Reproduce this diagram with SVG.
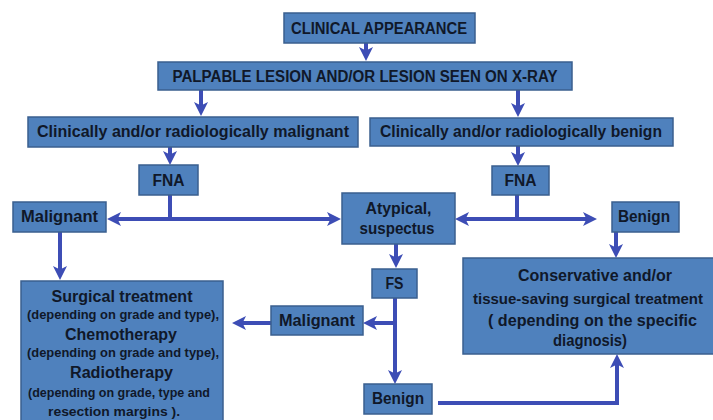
<svg xmlns="http://www.w3.org/2000/svg" width="713" height="420" viewBox="0 0 713 420">
<style>
.box{fill:#4f81bd;stroke:#3a5f8f;stroke-width:1.5}
.t{font-family:"Liberation Sans",Arial,sans-serif;font-weight:bold;fill:#101829;text-anchor:middle;font-size:16px}
.s{font-size:12px}
.c{fill:none;stroke:#3d4db5;stroke-width:4}
</style>
<defs>
<marker id="ah" viewBox="0 0 14 14" refX="9" refY="7" markerWidth="14" markerHeight="14" markerUnits="userSpaceOnUse" orient="auto-start-reverse">
<path d="M0,0 L14,7 L0,14 L3.5,7 z" fill="#3d4db5"/>
</marker>
</defs>
<rect width="713" height="420" fill="#ffffff"/>
<g id="connectors">
<path class="c" d="M366,43 V56" marker-end="url(#ah)"/>
<path class="c" d="M201,90 V111" marker-end="url(#ah)"/>
<path class="c" d="M518,90 V112" marker-end="url(#ah)"/>
<path class="c" d="M170,147 V160" marker-end="url(#ah)"/>
<path class="c" d="M518,146 V161" marker-end="url(#ah)"/>
<path class="c" d="M170,195 V219"/>
<path class="c" d="M112,219 H336" marker-start="url(#ah)" marker-end="url(#ah)"/>
<path class="c" d="M517,195 V219"/>
<path class="c" d="M460,219 H592" marker-start="url(#ah)" marker-end="url(#ah)"/>
<path class="c" d="M60,232 V275" marker-end="url(#ah)"/>
<path class="c" d="M616,232 V253" marker-end="url(#ah)"/>
<path class="c" d="M396,244 V263" marker-end="url(#ah)"/>
<path class="c" d="M395,298 V379" marker-end="url(#ah)"/>
<path class="c" d="M395,323 H368" marker-end="url(#ah)"/>
<path class="c" d="M271,323 H237" marker-end="url(#ah)"/>
<path class="c" d="M438,403 H617 V359" marker-end="url(#ah)"/>
</g>
<g id="clinical"><rect class="box" x="284" y="13" width="191" height="30"/><text class="t" x="379" y="34" textLength="176" lengthAdjust="spacingAndGlyphs">CLINICAL APPEARANCE</text></g>
<g id="palpable"><rect class="box" x="158" y="62" width="414" height="28"/><text class="t" x="365" y="82" textLength="385" lengthAdjust="spacingAndGlyphs">PALPABLE LESION AND/OR LESION SEEN  ON X-RAY</text></g>
<g id="clin-malignant"><rect class="box" x="28" y="117" width="330" height="30"/><text class="t" x="193" y="137" textLength="312" lengthAdjust="spacingAndGlyphs">Clinically and/or radiologically malignant</text></g>
<g id="clin-benign"><rect class="box" x="370" y="118" width="303" height="28"/><text class="t" x="521" y="137" textLength="282" lengthAdjust="spacingAndGlyphs">Clinically and/or radiologically benign</text></g>
<g id="fna-left"><rect class="box" x="139" y="165" width="59" height="30"/><text class="t" x="168.5" y="186" textLength="32" lengthAdjust="spacingAndGlyphs">FNA</text></g>
<g id="fna-right"><rect class="box" x="492" y="166" width="57" height="29"/><text class="t" x="520.5" y="186" textLength="32" lengthAdjust="spacingAndGlyphs">FNA</text></g>
<g id="malignant-1"><rect class="box" x="13" y="202" width="93" height="30"/><text class="t" x="59.5" y="222" textLength="77" lengthAdjust="spacingAndGlyphs">Malignant</text></g>
<g id="atypical"><rect class="box" x="342" y="193" width="113" height="51"/><text class="t" x="398.5" y="214" textLength="66" lengthAdjust="spacingAndGlyphs">Atypical,</text><text class="t" x="397" y="234" textLength="75" lengthAdjust="spacingAndGlyphs">suspectus</text></g>
<g id="benign-1"><rect class="box" x="612" y="202" width="67" height="30"/><text class="t" x="644" y="222" textLength="52" lengthAdjust="spacingAndGlyphs">Benign</text></g>
<g id="fs"><rect class="box" x="372" y="269" width="45" height="29"/><text class="t" x="394.5" y="289" textLength="18" lengthAdjust="spacingAndGlyphs">FS</text></g>
<g id="malignant-2"><rect class="box" x="271" y="306" width="92" height="29"/><text class="t" x="317" y="326" textLength="76" lengthAdjust="spacingAndGlyphs">Malignant</text></g>
<g id="benign-2"><rect class="box" x="364" y="384" width="68" height="30"/><text class="t" x="398" y="404" textLength="52" lengthAdjust="spacingAndGlyphs">Benign</text></g>
<g id="treatment">
<rect class="box" x="21" y="281" width="202" height="150"/>
<text class="t" x="122" y="302" textLength="141" lengthAdjust="spacingAndGlyphs">Surgical treatment</text>
<text class="t s" x="123" y="319" textLength="192" lengthAdjust="spacingAndGlyphs">(depending on grade and type),</text>
<text class="t" x="121" y="340" textLength="112" lengthAdjust="spacingAndGlyphs">Chemotherapy</text>
<text class="t s" x="123" y="357" textLength="192" lengthAdjust="spacingAndGlyphs">(depending on grade and type),</text>
<text class="t" x="121.5" y="378" textLength="103" lengthAdjust="spacingAndGlyphs">Radiotherapy</text>
<text class="t s" x="119" y="397" textLength="182" lengthAdjust="spacingAndGlyphs">(depending on grade, type and</text>
<text class="t s" x="114" y="416" textLength="132" lengthAdjust="spacingAndGlyphs">resection margins ).</text>
</g>
<g id="conservative">
<rect class="box" x="463" y="258" width="280" height="96"/>
<text class="t" x="595" y="281" textLength="154" lengthAdjust="spacingAndGlyphs">Conservative and/or</text>
<text class="t" x="588" y="304" style="font-size:15px" textLength="230" lengthAdjust="spacingAndGlyphs">tissue-saving surgical treatment</text>
<text class="t" x="592.5" y="326" textLength="209" lengthAdjust="spacingAndGlyphs">( depending on the specific</text>
<text class="t" x="590" y="346" textLength="74" lengthAdjust="spacingAndGlyphs">diagnosis)</text>
</g>
</svg>
